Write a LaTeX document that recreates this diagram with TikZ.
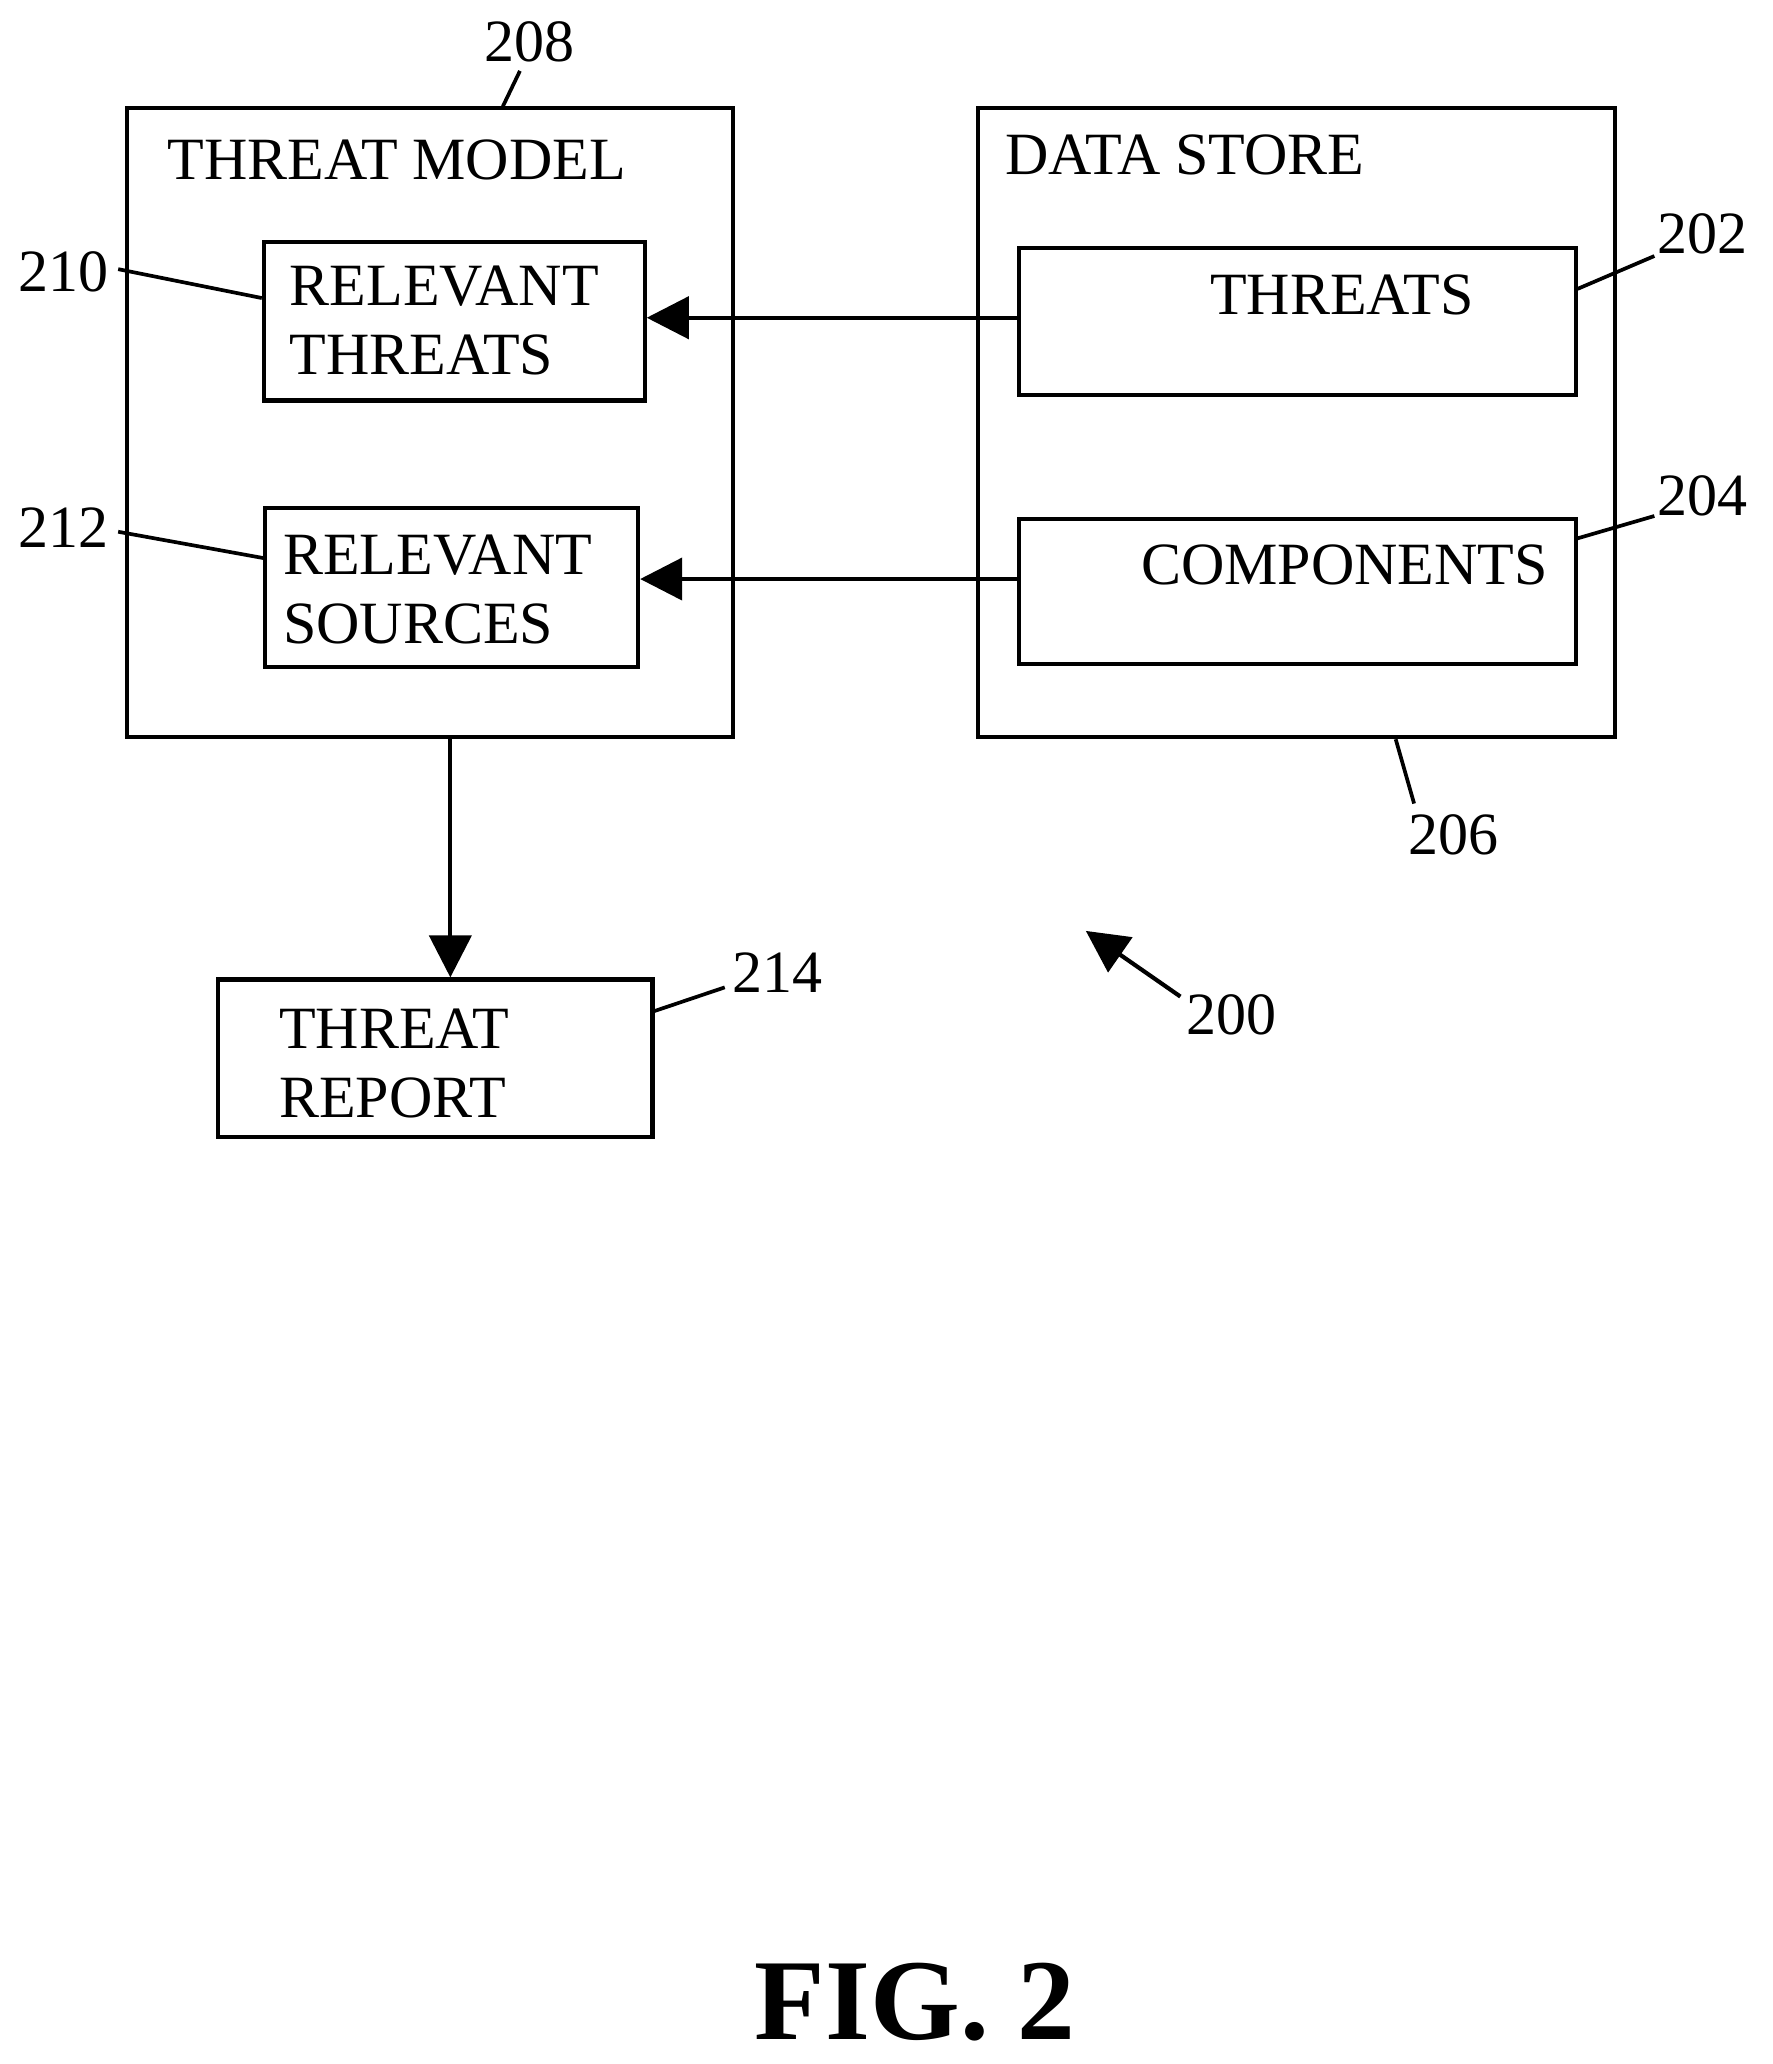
\documentclass[tikz,border=0pt]{standalone}
\usepackage{fontspec}
\setmainfont{Liberation Serif}
\usetikzlibrary{arrows.meta}
\tikzstyle{block} = [draw, line width=0.9pt, rectangle, inner sep=0pt]
\tikzstyle{txt} = [font=\fontsize{13}{15}\selectfont, align=left, inner sep=0pt]
\tikzstyle{ref} = [font=\fontsize{13}{15}\selectfont, inner sep=0pt]
\tikzstyle{lead} = [line width=0.8pt]

\begin{document}
\begin{tikzpicture}[x=0.1mm, y=-0.1mm, >={Triangle[length=3.2mm, width=3.2mm]}]
  \useasboundingbox (0, 0) rectangle (1350, 1572);

  % outer boxes
  \node[block, minimum width=46.1mm, minimum height=47.9mm] at (327.5, 321.5) (model) {};
  \node[block, minimum width=48.5mm, minimum height=47.9mm] at (987.5, 321.5) (store) {};
  \node[txt, anchor=west] at (127, 122) (modeltitle) {THREAT MODEL};
  \node[txt, anchor=west] at (765, 118) (storetitle) {DATA STORE};

  % inner boxes
  \node[block, minimum width=29mm, minimum height=12.1mm] at (346, 244.5) (relthr) {};
  \node[txt, anchor=west] at (220, 244) (relthrtext) {RELEVANT\\THREATS};
  \node[block, minimum width=28.4mm, minimum height=12.1mm] at (344, 447.5) (relsrc) {};
  \node[txt, anchor=west] at (215, 449) (relsrctext) {RELEVANT\\SOURCES};
  \node[block, minimum width=42.4mm, minimum height=11.2mm] at (988, 245) (threats) {};
  \node[txt] at (1022, 225) (threatstext) {THREATS};
  \node[block, minimum width=42.4mm, minimum height=11.1mm] at (988, 450.5) (comps) {};
  \node[txt] at (1024, 430) (compstext) {COMPONENTS};
  \node[block, minimum width=33.1mm, minimum height=12mm] at (331.5, 806) (report) {};
  \node[txt, anchor=west] at (212, 810) (reporttext) {THREAT\\REPORT};

  % connectors
  \draw[line width=0.9pt, ->] (threats.west |- 0, 242) -- (relthr.east |- 0, 242);
  \draw[line width=0.9pt, ->] (comps.west |- 0, 441) -- (relsrc.east |- 0, 441);
  \draw[line width=0.9pt, ->] (model.south -| 343, 0) -- (report.north -| 343, 0);

  % reference numerals
  \node[ref] at (403, 32) (n208) {208};
  \draw[lead] (383, 81) -- (396, 54);
  \node[ref] at (48, 207) (n210) {210};
  \draw[lead] (90, 205) -- (relthr.west |- 0, 227);
  \node[ref] at (48, 402) (n212) {212};
  \draw[lead] (90, 405) -- (relsrc.west |- 0, 425);
  \node[ref] at (1297, 178) (n202) {202};
  \draw[lead] (threats.east |- 0, 220) -- (1260, 195);
  \node[ref] at (1297, 378) (n204) {204};
  \draw[lead] (comps.east |- 0, 410) -- (1260, 393);
  \node[ref] at (1107, 636) (n206) {206};
  \draw[lead] (1063, 563) -- (1077, 612);
  \node[ref] at (592, 741) (n214) {214};
  \draw[lead] (report.east |- 0, 770) -- (552, 752);
  \node[ref] at (938, 773) (n200) {200};
  \coordinate (tip200) at (827, 709);
  \draw[line width=0.9pt, ->] (899, 759) -- (tip200);

  \node[font=\fontsize{25}{28}\selectfont\bfseries, inner sep=0pt] at (697, 1525) (fig) {FIG. 2};
\end{tikzpicture}
\end{document}
